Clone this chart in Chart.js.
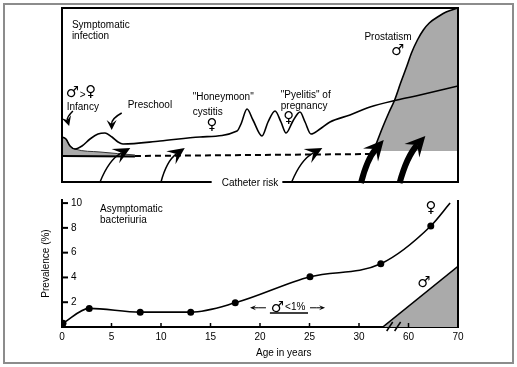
<!DOCTYPE html>
<html>
<head>
<meta charset="utf-8">
<script src="https://cdn.jsdelivr.net/npm/chart.js@4.4.1/dist/chart.umd.min.js"></script>
<style>
  html, body { margin: 0; padding: 0; background: #fff; }
  #wrap { position: relative; width: 517px; height: 367px; }
  #wrap canvas { position: absolute; left: 0; top: 0; }
  #frame { position: absolute; left: 3px; top: 3px; width: 511px; height: 361px; box-sizing: border-box; border: 2px solid #8c8c8c; }
</style>
</head>
<body>
<div id="wrap">
  <div id="frame"></div>
  <canvas id="lower" width="517" height="367"></canvas>
  <canvas id="upper" width="517" height="367"></canvas>
</div>
<script>
// x everywhere = position on the broken age axis:
// 0-30 years as they are, then 60-70 years squeezed into 35-40.
const xTickLabels = ['0', '5', '10', '15', '20', '25', '30', '60', '70'];

// --- lower panel: asymptomatic bacteriuria, prevalence (%) ---
const femaleX = [0.1, 2.75, 7.9, 13.0, 17.5, 25.05, 32.2, 37.25, 39.2];
const femaleY = [0.3, 1.5, 1.2, 1.2, 1.95, 4.05, 5.1, 8.15, 10.0];
const maleX = [32.4, 40];
const maleY = [0, 4.9];

// --- upper panel: symptomatic infection (schematic, arbitrary height units) ---
const symptomX = [0, 0.4, 0.81, 1.31, 2.02, 2.83, 3.64, 4.34, 5.05, 5.66, 6.16, 9.9, 13.94, 17.68,
  18.08, 18.69, 19.29, 20.2, 20.81, 21.52, 22.12, 22.63, 23.33, 24.04, 24.55, 25.15,
  26.06, 27.07, 29.09, 31.11, 33.84, 36.16, 40];
const symptomY = [45, 43, 36, 33, 36, 43, 48, 49, 45, 40, 38, 41, 45, 51,
  58, 73, 62, 46, 60, 71, 60, 49, 61, 70, 60, 48,
  53, 60, 67, 75, 82, 87, 96];
const infancyX = [0, 0.4, 0.81, 1.31, 3.84, 7.37];
const infancyY = [45, 43, 36, 33, 30, 27];
const infancyFloor = 26;
const infancyBaseX = [0, 7.37];
const infancyBaseY = [26, 25.5];
const catheterX = [7.37, 31.4];
const catheterY = [26, 28];
const prostX = [31.5, 32.4, 33.0, 33.6, 34.2, 34.8, 35.3, 35.9, 36.5, 37.1, 38.1, 38.8, 40];
const prostY = [32, 55, 69, 82, 99, 115, 129, 142, 152, 159, 166, 170, 174];
const prostFloor = 31;

// curved arrows [fromX, fromY, toX, toY]
const catheterArrows = [[3.84, 0, 6.9, 34], [10.0, 0, 12.4, 34], [23.2, 0, 26.3, 34]];
const prostateArrows = [[30.2, -1, 32.5, 42], [34.1, -1, 36.7, 46]];
const pointerArrows = [[1.1, 71, 0.72, 56], [6.03, 69, 5.02, 52]];

const upperLabels = [
  { text: 'Symptomatic', x: 1.0, y: 157, align: 'left' },
  { text: 'infection', x: 1.0, y: 146, align: 'left' },
  { text: '♂', x: 1.06, y: 89, sym: true },
  { text: '>', x: 2.1, y: 87 },
  { text: '♀', x: 2.9, y: 89.5, sym: true },
  { text: 'Infancy', x: 0.47, y: 75, align: 'left' },
  { text: 'Preschool', x: 6.63, y: 77, align: 'left' },
  { text: '"Honeymoon"', x: 13.2, y: 85, align: 'left' },
  { text: 'cystitis', x: 13.2, y: 70, align: 'left' },
  { text: '♀', x: 15.15, y: 57, sym: true },
  { text: '"Pyelitis" of', x: 22.1, y: 87, align: 'left' },
  { text: 'pregnancy', x: 22.1, y: 76, align: 'left' },
  { text: '♀', x: 22.9, y: 64, sym: true },
  { text: 'Prostatism', x: 32.93, y: 145 },
  { text: '♂', x: 33.9, y: 131, sym: true }
];
const catheterLabel = { text: 'Catheter risk', x: 18.99, y: -1 };

const lowerLabels = [
  { text: 'Asymptomatic', x: 3.84, y: 9.52, align: 'left' },
  { text: 'bacteriuria', x: 3.84, y: 8.62, align: 'left' },
  { text: '♀', x: 37.27, y: 9.6, sym: true },
  { text: '♂', x: 36.57, y: 3.55, sym: true },
  { text: '♂', x: 21.77, y: 1.53, sym: true },
  { text: '<1%', x: 22.53, y: 1.6, align: 'left' },
  { text: 'Age in years', x: 22.4, y: -2.1 }
];
const lowerArrows = [[20.6, 1.55, 18.99, 1.55], [25.05, 1.55, 26.57, 1.55]];
const maleUnderline = [21.0, 24.85, 1.13];
const axisBreak = [33.1, 33.9];

const GRAY = '#aaaaaa';
const FONT = '10px "Liberation Sans", Arial, sans-serif';
const SYM_FONT = '15px "DejaVu Sans", sans-serif';
Chart.defaults.font.family = '"Liberation Sans", Arial, sans-serif';
Chart.defaults.font.size = 10;
Chart.defaults.color = '#000';

const xy = (xs, ys) => xs.map((x, i) => ({ x, y: ys[i] }));

function drawArrow(ctx, x0, y0, x1, y1, s) {
    const dx = x1 - x0, dy = y1 - y0;
    const cx = (x0 + x1) / 2 + dy * s.bend, cy = (y0 + y1) / 2 - dx * s.bend;
    let tx = x1 - cx, ty = y1 - cy;
    const tl = Math.hypot(tx, ty);
    tx /= tl; ty /= tl;
    const nx = -ty, ny = tx;
    const bx = x1 - tx * s.head, by = y1 - ty * s.head;
    const mx = x1 - tx * s.head * 0.6, my = y1 - ty * s.head * 0.6;
    ctx.lineWidth = s.width;
    ctx.beginPath();
    ctx.moveTo(x0, y0);
    ctx.quadraticCurveTo(cx, cy, mx, my);
    ctx.stroke();
    ctx.beginPath();
    ctx.moveTo(x1, y1);
    ctx.lineTo(bx + nx * s.spread, by + ny * s.spread);
    ctx.lineTo(mx, my);
    ctx.lineTo(bx - nx * s.spread, by - ny * s.spread);
    ctx.closePath();
    ctx.fill();
}

function drawLabels(ctx, labels, px, py) {
    ctx.textBaseline = 'middle';
    labels.forEach(l => {
        ctx.font = l.sym ? SYM_FONT : FONT;
        ctx.textAlign = l.align || 'center';
        ctx.fillText(l.text, px(l.x), py(l.y));
    });
}

const upperDecor = {
    id: 'upperDecor',
    afterDatasetsDraw(chart) {
        const { ctx, chartArea: a, scales: { x, y } } = chart;
        const px = v => x.getPixelForValue(v), py = v => y.getPixelForValue(v);
        ctx.save();
        ctx.strokeStyle = '#000';
        ctx.fillStyle = '#000';
        ctx.lineCap = 'butt';
        catheterArrows.forEach(r => drawArrow(ctx, px(r[0]), py(r[1]), px(r[2]), py(r[3]),
            { width: 1.5, bend: 0.18, head: 17, spread: 8 }));
        prostateArrows.forEach(r => drawArrow(ctx, px(r[0]), py(r[1]), px(r[2]), py(r[3]),
            { width: 6, bend: 0.12, head: 20, spread: 10 }));
        pointerArrows.forEach(r => drawArrow(ctx, px(r[0]), py(r[1]), px(r[2]), py(r[3]),
            { width: 1.5, bend: -0.3, head: 10, spread: 5 }));

        // panel frame, bottom edge broken by the catheter label
        ctx.font = FONT;
        const cx = px(catheterLabel.x), cy = py(catheterLabel.y);
        const w = ctx.measureText(catheterLabel.text).width;
        ctx.lineWidth = 2;
        ctx.beginPath();
        ctx.moveTo(cx - w / 2 - 10, a.bottom);
        ctx.lineTo(a.left, a.bottom);
        ctx.lineTo(a.left, a.top);
        ctx.lineTo(a.right, a.top);
        ctx.lineTo(a.right, a.bottom);
        ctx.lineTo(cx + w / 2 + 4, a.bottom);
        ctx.stroke();
        ctx.textAlign = 'center';
        ctx.textBaseline = 'middle';
        ctx.fillText(catheterLabel.text, cx, cy);

        drawLabels(ctx, upperLabels, px, py);
        ctx.restore();
    }
};

const lowerDecor = {
    id: 'lowerDecor',
    afterDatasetsDraw(chart) {
        const { ctx, chartArea: a, scales: { x, y } } = chart;
        const px = v => x.getPixelForValue(v), py = v => y.getPixelForValue(v);
        ctx.save();
        ctx.strokeStyle = '#000';
        ctx.fillStyle = '#000';
        // inward tick marks
        ctx.lineWidth = 2;
        y.ticks.forEach(t => {
            if (t.value === 0) return;
            ctx.beginPath();
            ctx.moveTo(a.left, py(t.value));
            ctx.lineTo(a.left + 6, py(t.value));
            ctx.stroke();
        });
        ctx.lineWidth = 1.5;
        x.ticks.forEach(t => {
            if (t.value === 0 || t.value === 40) return;
            ctx.beginPath();
            ctx.moveTo(px(t.value), a.bottom);
            ctx.lineTo(px(t.value), a.bottom - 4);
            ctx.stroke();
        });
        // right edge
        ctx.lineWidth = 2;
        ctx.beginPath();
        ctx.moveTo(a.right, a.top);
        ctx.lineTo(a.right, a.bottom);
        ctx.stroke();
        // axis break
        ctx.lineWidth = 1.5;
        axisBreak.forEach(b => {
            ctx.beginPath();
            ctx.moveTo(px(b) - 3, a.bottom + 4);
            ctx.lineTo(px(b) + 3, a.bottom - 5);
            ctx.stroke();
        });
        // male < 1% marker
        lowerArrows.forEach(r => drawArrow(ctx, px(r[0]), py(r[1]), px(r[2]), py(r[3]),
            { width: 1, bend: 0, head: 6, spread: 2.5 }));
        ctx.lineWidth = 1.5;
        ctx.beginPath();
        ctx.moveTo(px(maleUnderline[0]), py(maleUnderline[2]));
        ctx.lineTo(px(maleUnderline[1]), py(maleUnderline[2]));
        ctx.stroke();

        drawLabels(ctx, lowerLabels, px, py);
        ctx.restore();
    }
};

new Chart(document.getElementById('lower'), {
    type: 'line',
    data: {
        datasets: [
            {
                data: xy(femaleX, femaleY), borderColor: '#000', borderWidth: 1.6,
                cubicInterpolationMode: 'monotone', fill: false,
                pointRadius: c => c.dataIndex === femaleX.length - 1 ? 0 : 3.5,
                pointBackgroundColor: '#000', pointBorderWidth: 0, order: 1
            },
            {
                data: xy(maleX, maleY), borderColor: '#000', borderWidth: 1.6,
                backgroundColor: GRAY, fill: 'origin', pointRadius: 0, order: 2
            }
        ]
    },
    options: {
        responsive: false, animation: false,
        layout: { padding: { left: 0, right: 59, top: 200, bottom: 0 } },
        plugins: { legend: { display: false }, tooltip: { enabled: false } },
        scales: {
            x: {
                type: 'linear', min: 0, max: 40,
                afterFit: s => { s.height = 40; },
                grid: { display: false, drawTicks: false },
                border: { display: true, color: '#000', width: 2 },
                ticks: { stepSize: 5, padding: 4, autoSkip: false, maxRotation: 0, callback: (v, i) => xTickLabels[i] }
            },
            y: {
                min: 0, max: 10.25,
                afterFit: s => { s.width = 62; },
                grid: { display: false, drawTicks: false },
                border: { display: true, color: '#000', width: 2 },
                ticks: { stepSize: 2, includeBounds: false, mirror: true, padding: 9, callback: v => v === 0 ? '' : v },
                title: { display: true, text: 'Prevalence (%)', padding: { top: 40, bottom: 0 }, font: { size: 10 } }
            }
        }
    },
    plugins: [lowerDecor]
});

new Chart(document.getElementById('upper'), {
    type: 'line',
    data: {
        datasets: [
            {
                data: xy(symptomX, symptomY), borderColor: '#000', borderWidth: 1.6,
                cubicInterpolationMode: 'monotone', pointRadius: 0, fill: false, order: 1
            },
            {
                data: xy(infancyBaseX, infancyBaseY), borderColor: '#000', borderWidth: 2,
                pointRadius: 0, fill: false, order: 2
            },
            {
                data: xy(catheterX, catheterY), borderColor: '#000', borderWidth: 2,
                borderDash: [6, 4], pointRadius: 0, fill: false, order: 2
            },
            {
                data: xy(infancyX, infancyY), borderColor: '#333', borderWidth: 1,
                backgroundColor: GRAY, fill: { value: infancyFloor },
                cubicInterpolationMode: 'monotone', pointRadius: 0, order: 3
            },
            {
                data: xy(prostX, prostY), borderColor: '#000', borderWidth: 1.6,
                backgroundColor: GRAY, fill: { value: prostFloor },
                cubicInterpolationMode: 'monotone', pointRadius: 0, order: 4
            }
        ]
    },
    options: {
        responsive: false, animation: false,
        layout: { padding: { left: 62, right: 59, top: 8, bottom: 185 } },
        plugins: { legend: { display: false }, tooltip: { enabled: false } },
        scales: {
            x: { type: 'linear', min: 0, max: 40, display: false },
            y: { min: 0, max: 174, display: false }
        }
    },
    plugins: [upperDecor]
});
</script>
</body>
</html>
